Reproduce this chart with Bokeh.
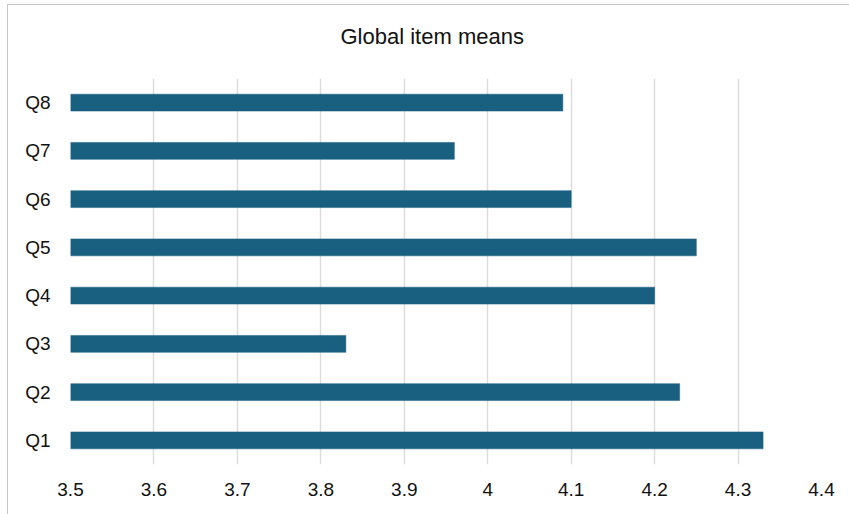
from bokeh.plotting import figure
from bokeh.models import FactorRange, Range1d, FixedTicker, Title
from bokeh.embed import file_html
from bokeh.resources import INLINE

categories = ["Q1", "Q2", "Q3", "Q4", "Q5", "Q6", "Q7", "Q8"]
means = [4.33, 4.23, 3.83, 4.20, 4.25, 4.10, 3.96, 4.09]
x_ticks = [3.5, 3.6, 3.7, 3.8, 3.9, 4.0, 4.1, 4.2, 4.3, 4.4]
x_tick_labels = ["3.5", "3.6", "3.7", "3.8", "3.9", "4", "4.1", "4.2", "4.3", "4.4"]
title_text = "Global item means"
baseline = 3.5

FONT = "Liberation Sans"
BAR = "#185f80"

p = figure(width=842, height=510, output_backend="svg", toolbar_location=None,
           y_range=FactorRange(factors=categories, range_padding=0),
           x_range=Range1d(x_ticks[0], x_ticks[-1]),
           min_border_left=62, min_border_right=29, min_border_top=0, min_border_bottom=51)
p.margin = (4, 0, 0, 7)
p.styles = {"border-left": "1px solid #c6c6c6", "border-top": "1px solid #c6c6c6"}

p.hbar(y=categories, right=means, left=baseline, height=0.35,
       fill_color=BAR, line_color=BAR, line_width=0.5)

p.title = Title(text=title_text, align="left", offset=270, text_font=FONT,
                text_font_size="22px", text_font_style="normal", text_color="#111111",
                standoff=32)
# thin spacer panel between title and frame
p.add_layout(Title(text=" ", text_font_size="1px", standoff=11), "above")

p.outline_line_color = None
p.background_fill_color = "white"
p.border_fill_color = "white"

p.xaxis.ticker = FixedTicker(ticks=x_ticks)
p.xaxis.major_label_overrides = dict(zip(x_ticks, x_tick_labels))
for ax in (p.xaxis[0], p.yaxis[0]):
    ax.axis_line_color = None
    ax.major_tick_line_color = None
    ax.minor_tick_line_color = None
    ax.major_label_text_font = FONT
    ax.major_label_text_font_size = "19px"
    ax.major_label_text_color = "#111111"
p.xaxis.major_label_standoff = 12
p.yaxis.major_label_standoff = 14

p.xgrid.ticker = FixedTicker(ticks=x_ticks)
p.xgrid.grid_line_color = "#dcdcdc"
p.xgrid.grid_line_width = 1.5
p.ygrid.grid_line_color = None

open("out.html", "w").write(file_html(p, INLINE))
